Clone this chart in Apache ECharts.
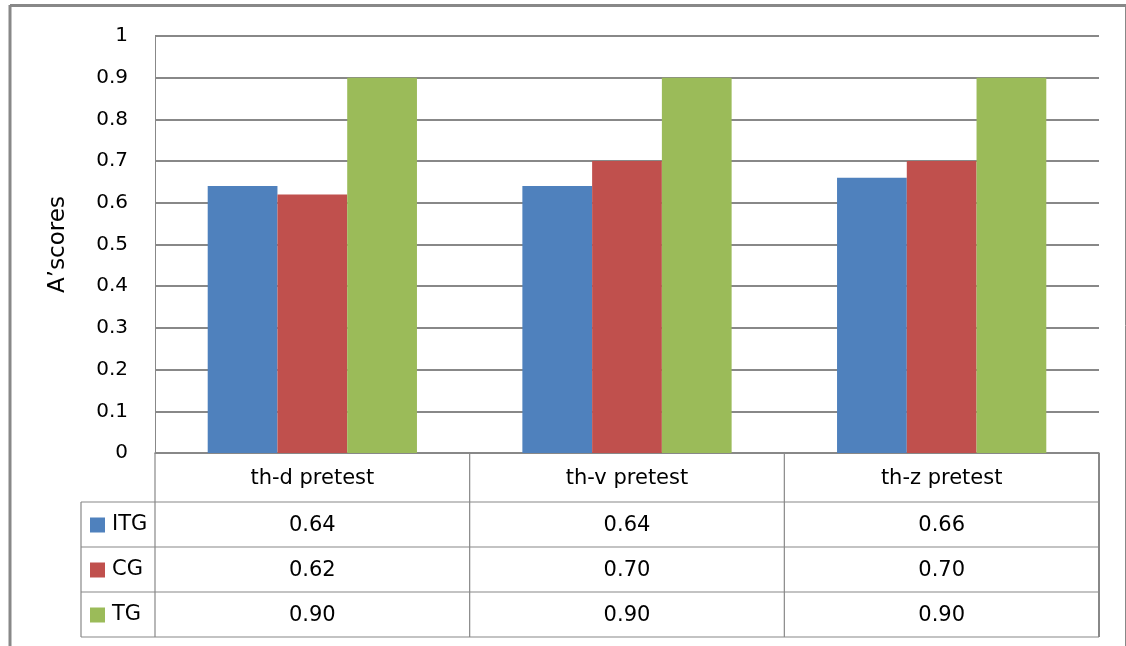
<!DOCTYPE html>
<html>
<head>
<meta charset="utf-8">
<script src="https://cdn.jsdelivr.net/npm/echarts@6/dist/echarts.min.js"></script>
<style>
html,body{margin:0;padding:0;background:#fff;}
#chart{width:1126px;height:646px;}
</style>
</head>
<body>
<div id="chart"></div>
<script>
const categories = ['th-d pretest', 'th-v pretest', 'th-z pretest'];
const seriesNames = ['ITG', 'CG', 'TG'];
const itgValues = [0.64, 0.64, 0.66];
const cgValues = [0.62, 0.70, 0.70];
const tgValues = [0.90, 0.90, 0.90];
const seriesColors = ['#4F81BD', '#C0504D', '#9BBB59'];
const yAxisTitle = 'A’scores';

const allValues = [itgValues, cgValues, tgValues];
const FONT = 'DejaVu Sans';
const lineColor = '#888888';

const chart = echarts.init(document.getElementById('chart'), null, {renderer: 'canvas'});

const GRID_LEFT = 155, GRID_RIGHT = 1099, GRID_TOP = 36, GRID_BOTTOM = 453;
const ROW_H = 45, CAT_ROW_BOTTOM = 502, LEGEND_LEFT = 81;

const option = {
  animation: false,
  backgroundColor: '#ffffff',
  grid: {left: GRID_LEFT, right: 1126 - GRID_RIGHT, top: GRID_TOP, bottom: 646 - GRID_BOTTOM, containLabel: false},
  legend: seriesNames.map((n, i) => ({
    left: 90,
    top: CAT_ROW_BOTTOM + i * ROW_H + ROW_H / 2 - 10,
    itemWidth: 15,
    itemHeight: 15,
    icon: 'rect',
    padding: 0,
    data: [n],
    textStyle: {fontFamily: FONT, fontSize: 21, color: '#000', padding: [0, 0, 0, 2]}
  })),
  xAxis: {
    type: 'category',
    data: categories,
    axisLine: {lineStyle: {color: lineColor, width: 1.5}},
    axisTick: {show: false},
    axisLabel: {fontFamily: FONT, fontSize: 21, color: '#000', margin: 15, lineHeight: 21}
  },
  yAxis: {
    type: 'value',
    min: 0, max: 1, interval: 0.1,
    name: yAxisTitle,
    nameLocation: 'middle',
    nameGap: 85,
    nameTextStyle: {fontFamily: FONT, fontSize: 23, color: '#000'},
    axisLine: {show: true, lineStyle: {color: lineColor, width: 1}},
    axisTick: {show: false},
    splitLine: {lineStyle: {color: lineColor, width: 2}},
    axisLabel: {
      fontFamily: FONT, fontSize: 20, color: '#000', margin: 27,
      formatter: v => (Math.abs(v) < 1e-9 ? '0' : (Math.abs(v - 1) < 1e-9 ? '1' : v.toFixed(1)))
    }
  },
  series: seriesNames.map((n, i) => ({
    name: n,
    type: 'bar',
    data: allValues[i],
    itemStyle: {color: seriesColors[i]},
    barGap: '0%',
    barCategoryGap: '33.5%'
  }))
};
chart.setOption(option);

// Build the data table from the same arrays, positioned through the axis scale
const centers = categories.map(c => chart.convertToPixel({xAxisIndex: 0}, c));
const bounds = [GRID_LEFT];
for (let i = 0; i < categories.length - 1; i++) bounds.push((centers[i] + centers[i + 1]) / 2);
bounds.push(GRID_RIGHT);
const tableBottom = CAT_ROW_BOTTOM + ROW_H * seriesNames.length;

const g = [];
const line = (x1, y1, x2, y2, w) => g.push({type: 'line', silent: true, shape: {x1, y1, x2, y2}, style: {stroke: lineColor, lineWidth: w || 1}});
// outer border
line(10, 5.5, 1126, 5.5, 3);
line(10, 5, 10, 646, 3);
line(1125.5, 5, 1125.5, 646, 1);
// horizontal row lines
for (let r = 0; r <= seriesNames.length; r++) {
  const y = CAT_ROW_BOTTOM + r * ROW_H;
  line(LEGEND_LEFT, y, GRID_RIGHT, y, 1.2);
}
// vertical lines
line(LEGEND_LEFT, CAT_ROW_BOTTOM, LEGEND_LEFT, tableBottom, 1.2);
bounds.forEach((x, i) => line(x, GRID_BOTTOM, x, tableBottom, i === bounds.length - 1 ? 2 : 1.2));
// value texts
allValues.forEach((vals, r) => {
  vals.forEach((v, c) => {
    g.push({
      type: 'text', silent: true,
      x: centers[c], y: CAT_ROW_BOTTOM + r * ROW_H + ROW_H / 2 + 1,
      style: {text: v.toFixed(2), fontFamily: FONT, fontSize: 21, fill: '#000', align: 'center', verticalAlign: 'middle'}
    });
  });
});
chart.setOption({graphic: g});
</script>
</body>
</html>
